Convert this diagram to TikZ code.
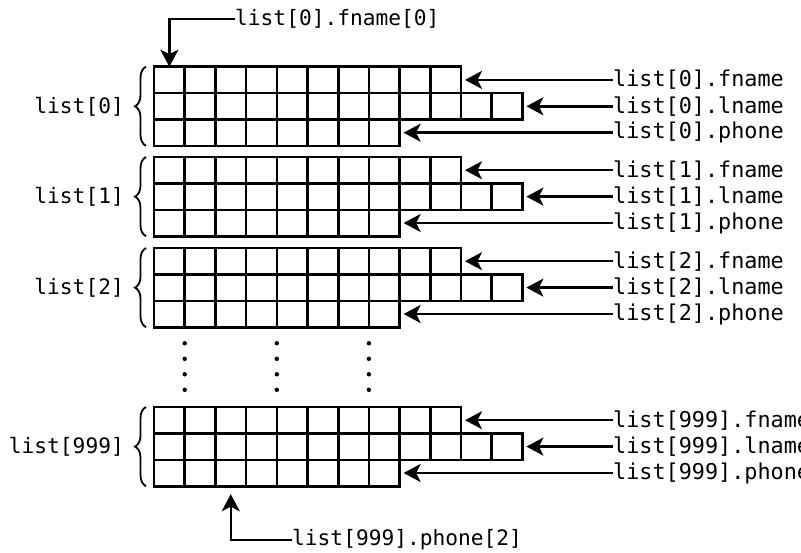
\documentclass[tikz,border=0pt]{standalone}
\usepackage{fontspec}
\setmonofont{DejaVu Sans Mono}
\usetikzlibrary{arrows.meta,decorations.pathreplacing}

\begin{document}
\begin{tikzpicture}[x=1pt,y=-1pt,
  cell/.style={draw,line width=2.6pt,rectangle,inner sep=0pt,outer sep=0pt,
               minimum width=30.7pt,minimum height=26.4pt},
  lbl/.style={font=\ttfamily\fontsize{21.2}{24}\selectfont,inner sep=0pt},
  fieldlbl/.style={font=\ttfamily\fontsize{21.8}{24}\selectfont,inner sep=0pt,anchor=west},
  ptr/.style={line width=2.5pt,-{Stealth[length=17pt,width=18pt,inset=4.5pt]}},
  grp/.style={decorate,decoration={brace,amplitude=11pt},line width=1.8pt}]

% page
\useasboundingbox (0,0) rectangle (801,552);
\fill[white] (0,0) rectangle (801,552);

% the four records: fname (10 chars), lname (12 chars), phone (8 chars)
\foreach \b/\T/\idx in {0/66.7/0,1/157/1,2/248/2,3/407/999} {
  \foreach \r/\n/\fld in {0/10/fname,1/12/lname,2/8/phone} {
    \foreach \k in {1,...,\n} {
      \node[cell] (c-\b-\r-\k) at ({154+(\k-0.5)*30.7},{\T+(\r+0.5)*26.4}) {};
    }
    \node[fieldlbl] (f-\b-\r) at (613,{\T+(\r+0.5)*26.4}) {list[\idx].\fld};
    \draw[ptr,shorten >=4pt] (f-\b-\r.west) -- (c-\b-\r-\n.east);
  }
  \node[lbl,anchor=east] (blk-\b) at (124,{\T+39.6}) {list[\idx]};
  \draw[grp] ([xshift=-8pt]c-\b-2-1.south west) -- ([xshift=-8pt]c-\b-0-1.north west);
}

% elided records
\foreach \x in {1,4,7}
  \foreach \y in {343.3,358.8,374.3,389.8}
    \fill ({154+\x*30.7},\y) circle (2.2);

% single-character pointers
\node[lbl,anchor=west] (top) at (235,19) {list[0].fname[0]};
\draw[ptr] (top.west) -| (c-0-0-1.north);

\node[lbl,anchor=west] (bot) at (292,540) {list[999].phone[2]};
\draw[ptr,shorten >=8pt] (bot.west) -| (c-3-2-3.south);
\end{tikzpicture}
\end{document}
